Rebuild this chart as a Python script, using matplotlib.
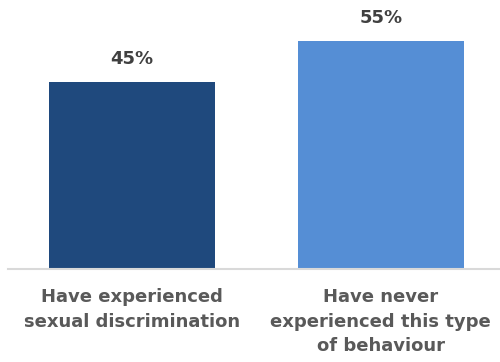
import matplotlib.pyplot as plt

categories = ['Have experienced\nsexual discrimination',
              'Have never\nexperienced this type\nof behaviour']
values = [45, 55]
labels = ['45%', '55%']
colors = ['#1F497D', '#558ED5']

fig = plt.figure(figsize=(5.0, 3.62), dpi=100)
ax = fig.add_axes([0.016, 0.257, 0.984, 0.688])

x = range(len(values))
bars = ax.bar(x, values, width=0.667, color=colors)

for b, lab in zip(bars, labels):
    ax.annotate(lab, (b.get_x() + b.get_width() / 2, b.get_height()),
                xytext=(0, 10), textcoords='offset points',
                ha='center', va='bottom', fontsize=13, fontweight='bold',
                color='#404040')

ax.set_xlim(-0.5, 1.48)
ax.set_ylim(0, 60)
ax.set_yticks([])
ax.set_xticks(list(x))
ax.set_xticklabels(categories, fontsize=13, fontweight='bold', color='#595959',
                   linespacing=1.45)
ax.tick_params(axis='x', length=0, pad=14)

for s in ['top', 'right', 'left']:
    ax.spines[s].set_visible(False)
ax.spines['bottom'].set_color('#D9D9D9')
ax.spines['bottom'].set_linewidth(1.5)

fig.savefig('out.png', dpi=100)
